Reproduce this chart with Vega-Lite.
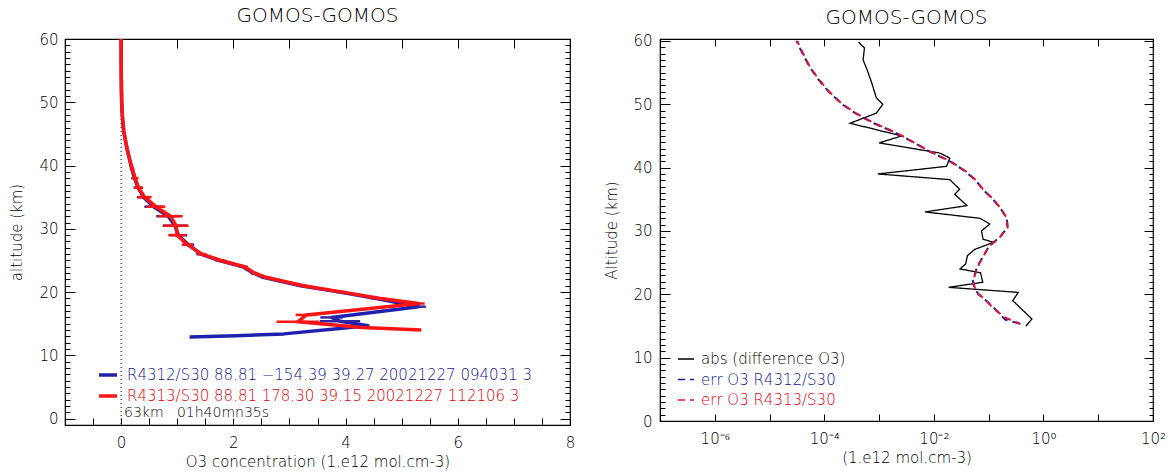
{
  "$schema": "https://vega.github.io/schema/vega-lite/v6.json",
  "background": "white",
  "padding": {"left": 9, "top": 5, "right": 0, "bottom": 0},
  "datasets": {
    "profiles": [
      {"source": "R4312/S30", "alt": 60, "o3": 0.000, "err": 3.1e-5},
      {"source": "R4312/S30", "alt": 58, "o3": 0.001, "err": 4.0e-5},
      {"source": "R4312/S30", "alt": 56, "o3": 0.002, "err": 5.3e-5},
      {"source": "R4312/S30", "alt": 54, "o3": 0.003, "err": 7.6e-5},
      {"source": "R4312/S30", "alt": 52, "o3": 0.006, "err": 1.2e-4},
      {"source": "R4312/S30", "alt": 50, "o3": 0.010, "err": 2.1e-4},
      {"source": "R4312/S30", "alt": 48.5, "o3": 0.018, "err": 3.8e-4},
      {"source": "R4312/S30", "alt": 47, "o3": 0.028, "err": 8.0e-4},
      {"source": "R4312/S30", "alt": 45.5, "o3": 0.045, "err": 2.0e-3},
      {"source": "R4312/S30", "alt": 44, "o3": 0.075, "err": 4.2e-3},
      {"source": "R4312/S30", "alt": 42.5, "o3": 0.11, "err": 8.5e-3},
      {"source": "R4312/S30", "alt": 41, "o3": 0.15, "err": 0.0195},
      {"source": "R4312/S30", "alt": 39.5, "o3": 0.19, "err": 0.036},
      {"source": "R4312/S30", "alt": 38, "o3": 0.24, "err": 0.058},
      {"source": "R4312/S30", "alt": 36.5, "o3": 0.30, "err": 0.079},
      {"source": "R4312/S30", "alt": 35, "o3": 0.40, "err": 0.12},
      {"source": "R4312/S30", "alt": 33.5, "o3": 0.58, "err": 0.166},
      {"source": "R4312/S30", "alt": 32, "o3": 0.84, "err": 0.214},
      {"source": "R4312/S30", "alt": 30.5, "o3": 0.96, "err": 0.22},
      {"source": "R4312/S30", "alt": 29, "o3": 1.02, "err": 0.158},
      {"source": "R4312/S30", "alt": 27.5, "o3": 1.20, "err": 0.10},
      {"source": "R4312/S30", "alt": 26, "o3": 1.42, "err": 0.079},
      {"source": "R4312/S30", "alt": 25, "o3": 1.75, "err": 0.068},
      {"source": "R4312/S30", "alt": 24, "o3": 2.17, "err": 0.060},
      {"source": "R4312/S30", "alt": 23, "o3": 2.36, "err": 0.055},
      {"source": "R4312/S30", "alt": 22.3, "o3": 2.55, "err": 0.051},
      {"source": "R4312/S30", "alt": 21, "o3": 3.20, "err": 0.055},
      {"source": "R4312/S30", "alt": 20, "o3": 3.90, "err": 0.065},
      {"source": "R4312/S30", "alt": 19, "o3": 4.55, "err": 0.09},
      {"source": "R4312/S30", "alt": 17.7, "o3": 5.30, "err": 0.13},
      {"source": "R4312/S30", "alt": 16.0, "o3": 3.75, "err": 0.20},
      {"source": "R4312/S30", "alt": 15.4, "o3": 3.90, "err": 0.36},
      {"source": "R4312/S30", "alt": 14.7, "o3": 4.40, "err": null},
      {"source": "R4312/S30", "alt": 13.4, "o3": 2.90, "err": null},
      {"source": "R4312/S30", "alt": 13.1, "o3": 2.05, "err": null},
      {"source": "R4312/S30", "alt": 12.9, "o3": 1.22, "err": null},
      {"source": "R4313/S30", "alt": 60, "o3": 0.000, "err": 3.2e-5},
      {"source": "R4313/S30", "alt": 58, "o3": 0.001, "err": 4.1e-5},
      {"source": "R4313/S30", "alt": 56, "o3": 0.002, "err": 5.4e-5},
      {"source": "R4313/S30", "alt": 54, "o3": 0.004, "err": 7.8e-5},
      {"source": "R4313/S30", "alt": 52, "o3": 0.006, "err": 1.22e-4},
      {"source": "R4313/S30", "alt": 50, "o3": 0.011, "err": 2.15e-4},
      {"source": "R4313/S30", "alt": 48.5, "o3": 0.019, "err": 3.9e-4},
      {"source": "R4313/S30", "alt": 47, "o3": 0.030, "err": 8.2e-4},
      {"source": "R4313/S30", "alt": 45.5, "o3": 0.047, "err": 2.05e-3},
      {"source": "R4313/S30", "alt": 44, "o3": 0.078, "err": 4.3e-3},
      {"source": "R4313/S30", "alt": 42.5, "o3": 0.11, "err": 8.7e-3},
      {"source": "R4313/S30", "alt": 41, "o3": 0.15, "err": 0.020},
      {"source": "R4313/S30", "alt": 39.5, "o3": 0.20, "err": 0.037},
      {"source": "R4313/S30", "alt": 38, "o3": 0.25, "err": 0.059},
      {"source": "R4313/S30", "alt": 36.5, "o3": 0.31, "err": 0.080},
      {"source": "R4313/S30", "alt": 35, "o3": 0.42, "err": 0.122},
      {"source": "R4313/S30", "alt": 33.5, "o3": 0.62, "err": 0.168},
      {"source": "R4313/S30", "alt": 32, "o3": 0.88, "err": 0.216},
      {"source": "R4313/S30", "alt": 30.5, "o3": 0.98, "err": 0.222},
      {"source": "R4313/S30", "alt": 29, "o3": 1.00, "err": 0.16},
      {"source": "R4313/S30", "alt": 27.5, "o3": 1.18, "err": 0.10},
      {"source": "R4313/S30", "alt": 26, "o3": 1.44, "err": 0.080},
      {"source": "R4313/S30", "alt": 25, "o3": 1.78, "err": 0.069},
      {"source": "R4313/S30", "alt": 24, "o3": 2.20, "err": 0.061},
      {"source": "R4313/S30", "alt": 23, "o3": 2.38, "err": 0.056},
      {"source": "R4313/S30", "alt": 22.3, "o3": 2.60, "err": 0.052},
      {"source": "R4313/S30", "alt": 21, "o3": 3.25, "err": 0.056},
      {"source": "R4313/S30", "alt": 20, "o3": 3.95, "err": 0.066},
      {"source": "R4313/S30", "alt": 19, "o3": 4.62, "err": 0.09},
      {"source": "R4313/S30", "alt": 18.2, "o3": 5.30, "err": 0.11},
      {"source": "R4313/S30", "alt": 16.4, "o3": 3.30, "err": 0.19},
      {"source": "R4313/S30", "alt": 15.3, "o3": 3.15, "err": 0.38},
      {"source": "R4313/S30", "alt": 14.4, "o3": 4.30, "err": null},
      {"source": "R4313/S30", "alt": 14.0, "o3": 5.35, "err": null}
    ],
    "difference": [
      {"source": "abs (difference O3)", "alt": 59.8, "value": 4.2e-4},
      {"source": "abs (difference O3)", "alt": 58.9, "value": 5.4e-4},
      {"source": "abs (difference O3)", "alt": 57.0, "value": 5.1e-4},
      {"source": "abs (difference O3)", "alt": 55.5, "value": 6.0e-4},
      {"source": "abs (difference O3)", "alt": 53.6, "value": 7.2e-4},
      {"source": "abs (difference O3)", "alt": 51.0, "value": 8.9e-4},
      {"source": "abs (difference O3)", "alt": 50.0, "value": 1.17e-3},
      {"source": "abs (difference O3)", "alt": 48.6, "value": 8.9e-4},
      {"source": "abs (difference O3)", "alt": 47.0, "value": 2.95e-4},
      {"source": "abs (difference O3)", "alt": 45.0, "value": 2.6e-3},
      {"source": "abs (difference O3)", "alt": 43.9, "value": 1.0e-3},
      {"source": "abs (difference O3)", "alt": 42.3, "value": 0.0129},
      {"source": "abs (difference O3)", "alt": 41.5, "value": 0.0195},
      {"source": "abs (difference O3)", "alt": 40.2, "value": 0.017},
      {"source": "abs (difference O3)", "alt": 39.0, "value": 9.5e-4},
      {"source": "abs (difference O3)", "alt": 38.1, "value": 0.0195},
      {"source": "abs (difference O3)", "alt": 36.6, "value": 0.0295},
      {"source": "abs (difference O3)", "alt": 35.8, "value": 0.024},
      {"source": "abs (difference O3)", "alt": 34.0, "value": 0.040},
      {"source": "abs (difference O3)", "alt": 33.0, "value": 0.0069},
      {"source": "abs (difference O3)", "alt": 32.0, "value": 0.069},
      {"source": "abs (difference O3)", "alt": 31.1, "value": 0.105},
      {"source": "abs (difference O3)", "alt": 30.0, "value": 0.074},
      {"source": "abs (difference O3)", "alt": 28.7, "value": 0.079},
      {"source": "abs (difference O3)", "alt": 28.2, "value": 0.123},
      {"source": "abs (difference O3)", "alt": 27.1, "value": 0.056},
      {"source": "abs (difference O3)", "alt": 26.1, "value": 0.041},
      {"source": "abs (difference O3)", "alt": 24.8, "value": 0.038},
      {"source": "abs (difference O3)", "alt": 24.0, "value": 0.030},
      {"source": "abs (difference O3)", "alt": 23.4, "value": 0.071},
      {"source": "abs (difference O3)", "alt": 21.9, "value": 0.078},
      {"source": "abs (difference O3)", "alt": 21.1, "value": 0.0186},
      {"source": "abs (difference O3)", "alt": 20.3, "value": 0.347},
      {"source": "abs (difference O3)", "alt": 19.0, "value": 0.275},
      {"source": "abs (difference O3)", "alt": 16.1, "value": 0.617},
      {"source": "abs (difference O3)", "alt": 15.0, "value": 0.479}
    ]
  },
  "spacing": 90,
  "bounds": "flush",
  "hconcat": [
    {
      "width": 505,
      "height": 386,
      "title": {"text": "GOMOS-GOMOS", "offset": 6},
      "data": {"name": "profiles"},
      "layer": [
        {
          "data": {"values": [{"o3": 0}]},
          "mark": {"type": "rule", "color": "black", "strokeWidth": 1, "strokeDash": [1, 3]},
          "encoding": {
            "x": {"field": "o3", "type": "quantitative", "scale": {"domain": [-1, 8], "nice": false, "zero": false}, "axis": null}
          }
        },
        {
          "transform": [{"filter": "datum.source == 'R4312/S30'"}],
          "mark": {"type": "line", "strokeWidth": 3.5, "strokeJoin": "round"},
          "encoding": {
            "x": {"field": "o3", "type": "quantitative", "scale": {"domain": [-1, 8], "nice": false, "zero": false},
                  "axis": {"orient": "bottom", "values": [-1, -0.5, 0, 0.5, 1, 1.5, 2, 2.5, 3, 3.5, 4, 4.5, 5, 5.5, 6, 6.5, 7, 7.5, 8], "format": "d",
                           "labelExpr": "datum.value >= 0 && datum.value % 2 === 0 ? datum.label : ''",
                           "grid": true, "gridDash": {"condition": {"test": "datum.value % 1 === 0", "value": [9, 2000]}, "value": [4, 2000]},
                           "labelPadding": 10, "title": "O3 concentration (1.e12 mol.cm-3)", "titlePadding": 4}},
            "y": {"field": "alt", "type": "quantitative", "scale": {"domain": [-1, 60], "nice": false, "zero": false},
                  "axis": {"orient": "left", "values": [-1, 0, 1, 2, 3, 4, 5, 6, 7, 8, 9, 10, 11, 12, 13, 14, 15, 16, 17, 18, 19, 20, 21, 22, 23, 24, 25, 26, 27, 28, 29, 30, 31, 32, 33, 34, 35, 36, 37, 38, 39, 40, 41, 42, 43, 44, 45, 46, 47, 48, 49, 50, 51, 52, 53, 54, 55, 56, 57, 58, 59, 60],
                           "labelExpr": "datum.value % 10 === 0 ? datum.label : ''",
                           "grid": true, "gridDash": {"condition": {"test": "datum.value % 10 === 0", "value": [10, 2000]}, "value": [5, 2000]},
                           "labelPadding": 7, "title": "altitude (km)", "titlePadding": 14}},
            "order": {"field": "alt", "type": "quantitative"},
            "color": {"field": "source", "type": "nominal",
                      "scale": {"domain": ["R4312/S30", "R4313/S30"], "range": ["#2020b0", "#ff1414"]},
                      "legend": {"orient": "none", "legendX": 32, "legendY": 325, "padding": 0,
                                 "title": "63km\u00a0\u00a0 01h40mn35s", "titleOrient": "bottom", "titleAnchor": "start", "titleFontSize": 14, "titleFontWeight": 200, "titleColor": "black", "titlePadding": 2,
                                 "symbolType": "stroke", "symbolSize": 324, "symbolStrokeWidth": 3.5,
                                 "labelFontSize": 15, "labelFontWeight": 200, "labelOffset": 8, "rowPadding": 2, "labelLimit": 600,
                                 "labelExpr": "datum.value == 'R4312/S30' ? 'R4312/S30 88.81 −154.39 39.27 20021227 094031 3' : 'R4313/S30 88.81 178.30 39.15 20021227 112106 3'",
                                 "encode": {"labels": {"update": {"fill": {"signal": "datum.value == 'R4312/S30' ? '#14148c' : '#e00000'"}}},
                                            "title": {"update": {"dx": {"value": 27}}}}}}
          }
        },
        {
          "transform": [{"filter": "datum.source == 'R4312/S30' && isValid(datum.err)"}],
          "mark": {"type": "errorbar", "thickness": 2.5, "color": "#3326a6"},
          "encoding": {
            "x": {"field": "o3", "type": "quantitative", "scale": {"domain": [-1, 8], "nice": false, "zero": false}, "axis": null},
            "xError": {"field": "err"},
            "y": {"field": "alt", "type": "quantitative", "scale": {"domain": [-1, 60], "nice": false, "zero": false}, "axis": null}
          }
        },
        {
          "transform": [{"filter": "datum.source == 'R4313/S30'"}],
          "mark": {"type": "line", "strokeWidth": 3.5, "strokeJoin": "round"},
          "encoding": {
            "x": {"field": "o3", "type": "quantitative", "scale": {"domain": [-1, 8], "nice": false, "zero": false},
                  "axis": {"orient": "top", "values": [-1, -0.5, 0, 0.5, 1, 1.5, 2, 2.5, 3, 3.5, 4, 4.5, 5, 5.5, 6, 6.5, 7, 7.5, 8], "labels": false, "title": null,
                           "grid": true, "gridDash": [7, 2000]}},
            "y": {"field": "alt", "type": "quantitative", "scale": {"domain": [-1, 60], "nice": false, "zero": false},
                  "axis": {"orient": "right", "values": [-1, 0, 1, 2, 3, 4, 5, 6, 7, 8, 9, 10, 11, 12, 13, 14, 15, 16, 17, 18, 19, 20, 21, 22, 23, 24, 25, 26, 27, 28, 29, 30, 31, 32, 33, 34, 35, 36, 37, 38, 39, 40, 41, 42, 43, 44, 45, 46, 47, 48, 49, 50, 51, 52, 53, 54, 55, 56, 57, 58, 59, 60], "labels": false, "title": null,
                           "grid": true, "gridDash": {"condition": {"test": "datum.value % 10 === 0", "value": [10, 2000]}, "value": [5, 2000]}}},
            "order": {"field": "alt", "type": "quantitative"},
            "color": {"field": "source", "type": "nominal",
                      "scale": {"domain": ["R4312/S30", "R4313/S30"], "range": ["#2020b0", "#ff1414"]},
                      "legend": {"orient": "none", "legendX": 32, "legendY": 325, "padding": 0,
                                 "title": "63km\u00a0\u00a0 01h40mn35s", "titleOrient": "bottom", "titleAnchor": "start", "titleFontSize": 14, "titleFontWeight": 200, "titleColor": "black", "titlePadding": 2,
                                 "symbolType": "stroke", "symbolSize": 324, "symbolStrokeWidth": 3.5,
                                 "labelFontSize": 15, "labelFontWeight": 200, "labelOffset": 8, "rowPadding": 2, "labelLimit": 600,
                                 "labelExpr": "datum.value == 'R4312/S30' ? 'R4312/S30 88.81 −154.39 39.27 20021227 094031 3' : 'R4313/S30 88.81 178.30 39.15 20021227 112106 3'",
                                 "encode": {"labels": {"update": {"fill": {"signal": "datum.value == 'R4312/S30' ? '#14148c' : '#e00000'"}}},
                                            "title": {"update": {"dx": {"value": 27}}}}}}
          }
        },
        {
          "transform": [{"filter": "datum.source == 'R4313/S30' && isValid(datum.err)"}],
          "mark": {"type": "errorbar", "thickness": 2.5, "color": "#ff1414"},
          "encoding": {
            "x": {"field": "o3", "type": "quantitative", "scale": {"domain": [-1, 8], "nice": false, "zero": false}, "axis": null},
            "xError": {"field": "err"},
            "y": {"field": "alt", "type": "quantitative", "scale": {"domain": [-1, 60], "nice": false, "zero": false}, "axis": null}
          }
        }
      ],
      "resolve": {"axis": {"x": "independent", "y": "independent"}}
    },
    {
      "width": 493,
      "height": 382,
      "title": {"text": "GOMOS-GOMOS", "offset": 6},
      "layer": [
        {
          "data": {"name": "difference"},
          "mark": {"type": "line", "strokeWidth": 1.3},
          "encoding": {
            "x": {"field": "value", "type": "quantitative", "scale": {"type": "log", "domain": [1e-7, 100], "nice": false},
                  "axis": {"orient": "bottom", "values": [1e-7, 1e-6, 1e-5, 1e-4, 1e-3, 1e-2, 1e-1, 1, 10, 100],
                           "labelExpr": "round(log(datum.value)/LN10) == -6 ? '10⁻⁶' : round(log(datum.value)/LN10) == -4 ? '10⁻⁴' : round(log(datum.value)/LN10) == -2 ? '10⁻²' : round(log(datum.value)/LN10) == 0 ? '10⁰' : round(log(datum.value)/LN10) == 2 ? '10²' : ''",
                           "grid": true, "gridDash": [7, 2000],
                           "labelPadding": 10, "title": "(1.e12 mol.cm-3)", "titlePadding": 4}},
            "y": {"field": "alt", "type": "quantitative", "scale": {"domain": [0, 60.3], "nice": false, "zero": false},
                  "axis": {"orient": "left", "values": [0, 1, 2, 3, 4, 5, 6, 7, 8, 9, 10, 11, 12, 13, 14, 15, 16, 17, 18, 19, 20, 21, 22, 23, 24, 25, 26, 27, 28, 29, 30, 31, 32, 33, 34, 35, 36, 37, 38, 39, 40, 41, 42, 43, 44, 45, 46, 47, 48, 49, 50, 51, 52, 53, 54, 55, 56, 57, 58, 59, 60],
                           "labelExpr": "datum.value % 10 === 0 ? datum.label : ''",
                           "grid": true, "gridDash": {"condition": {"test": "datum.value % 10 === 0", "value": [10, 2000]}, "value": [5, 2000]},
                           "labelPadding": 8, "title": "Altitude (km)", "titlePadding": 13}},
            "order": {"field": "alt", "type": "quantitative"},
            "color": {"field": "source", "type": "nominal",
                      "scale": {"domain": ["abs (difference O3)", "R4312/S30", "R4313/S30"], "range": ["black", "#1c1c9c", "#dc1438"]},
                      "legend": {"orient": "none", "legendX": 17, "legendY": 311, "padding": 0, "title": null,
                                 "symbolType": "stroke", "symbolSize": 256, "symbolStrokeWidth": 1.5,
                                 "labelFontSize": 15, "labelFontWeight": 200, "labelOffset": 6, "rowPadding": 3.5, "labelLimit": 600,
                                 "labelExpr": "datum.value == 'abs (difference O3)' ? datum.label : 'err O3 ' + datum.label",
                                 "encode": {"labels": {"update": {"fill": {"signal": "datum.value == 'R4312/S30' ? '#14148c' : datum.value == 'R4313/S30' ? '#e00010' : 'black'"}}}}}},
            "strokeDash": {"field": "source", "type": "nominal",
                           "scale": {"domain": ["abs (difference O3)", "R4312/S30", "R4313/S30"], "range": [[1, 0], [7, 5], [7, 5]]},
                           "legend": {"orient": "none", "legendX": 17, "legendY": 311, "padding": 0, "title": null,
                                      "symbolType": "stroke", "symbolSize": 256, "symbolStrokeWidth": 1.5,
                                      "labelFontSize": 15, "labelFontWeight": 200, "labelOffset": 6, "rowPadding": 3.5, "labelLimit": 600,
                                      "labelExpr": "datum.value == 'abs (difference O3)' ? datum.label : 'err O3 ' + datum.label",
                                      "encode": {"labels": {"update": {"fill": {"signal": "datum.value == 'R4312/S30' ? '#14148c' : datum.value == 'R4313/S30' ? '#e00010' : 'black'"}}}}}}
          }
        },
        {
          "data": {"name": "profiles"},
          "transform": [{"filter": "datum.source == 'R4312/S30' && isValid(datum.err)"}],
          "mark": {"type": "line", "strokeWidth": 2},
          "encoding": {
            "x": {"field": "err", "type": "quantitative", "scale": {"type": "log", "domain": [1e-7, 100], "nice": false},
                  "axis": {"orient": "top", "values": [1e-7, 1e-6, 1e-5, 1e-4, 1e-3, 1e-2, 1e-1, 1, 10, 100], "labels": false, "title": null,
                           "grid": true, "gridDash": [7, 2000]}},
            "y": {"field": "alt", "type": "quantitative", "scale": {"domain": [0, 60.3], "nice": false, "zero": false},
                  "axis": {"orient": "right", "values": [0, 1, 2, 3, 4, 5, 6, 7, 8, 9, 10, 11, 12, 13, 14, 15, 16, 17, 18, 19, 20, 21, 22, 23, 24, 25, 26, 27, 28, 29, 30, 31, 32, 33, 34, 35, 36, 37, 38, 39, 40, 41, 42, 43, 44, 45, 46, 47, 48, 49, 50, 51, 52, 53, 54, 55, 56, 57, 58, 59, 60], "labels": false, "title": null,
                           "grid": true, "gridDash": {"condition": {"test": "datum.value % 10 === 0", "value": [9, 2000]}, "value": [4, 2000]}}},
            "order": {"field": "alt", "type": "quantitative"},
            "color": {"field": "source", "type": "nominal", "scale": {"domain": ["abs (difference O3)", "R4312/S30", "R4313/S30"], "range": ["black", "#1c1c9c", "#dc1438"]}},
            "strokeDash": {"field": "source", "type": "nominal", "scale": {"domain": ["abs (difference O3)", "R4312/S30", "R4313/S30"], "range": [[1, 0], [7, 5], [7, 5]]}}
          }
        },
        {
          "data": {"name": "profiles"},
          "transform": [{"filter": "datum.source == 'R4313/S30' && isValid(datum.err)"}],
          "mark": {"type": "line", "strokeWidth": 2, "strokeDashOffset": 1.5},
          "encoding": {
            "x": {"field": "err", "type": "quantitative", "scale": {"type": "log", "domain": [1e-7, 100], "nice": false}, "axis": null},
            "y": {"field": "alt", "type": "quantitative", "scale": {"domain": [0, 60.3], "nice": false, "zero": false}, "axis": null},
            "order": {"field": "alt", "type": "quantitative"},
            "color": {"field": "source", "type": "nominal", "scale": {"domain": ["abs (difference O3)", "R4312/S30", "R4313/S30"], "range": ["black", "#1c1c9c", "#dc1438"]}},
            "strokeDash": {"field": "source", "type": "nominal", "scale": {"domain": ["abs (difference O3)", "R4312/S30", "R4313/S30"], "range": [[1, 0], [7, 5], [7, 5]]}}
          }
        }
      ],
      "resolve": {"axis": {"x": "independent", "y": "independent"}}
    }
  ],
  "resolve": {"scale": {"color": "independent", "strokeDash": "independent"}},
  "config": {
    "font": "DejaVu Sans",
    "view": {"stroke": "black", "strokeWidth": 1.2},
    "axis": {"domain": false, "ticks": false, "grid": false, "gridColor": "black", "gridOpacity": 1, "gridWidth": 1,
             "labelFlush": false, "labelOverlap": false, "labelFont": "DejaVu Sans", "labelFontSize": 15, "labelFontWeight": 200, "labelColor": "black",
             "titleFont": "DejaVu Sans", "titleFontSize": 15, "titleFontWeight": 200, "titleColor": "black"},
    "title": {"font": "DejaVu Sans", "fontSize": 20, "fontWeight": 200, "color": "black"},
    "legend": {"labelFont": "DejaVu Sans", "titleFont": "DejaVu Sans"}
  }
}
